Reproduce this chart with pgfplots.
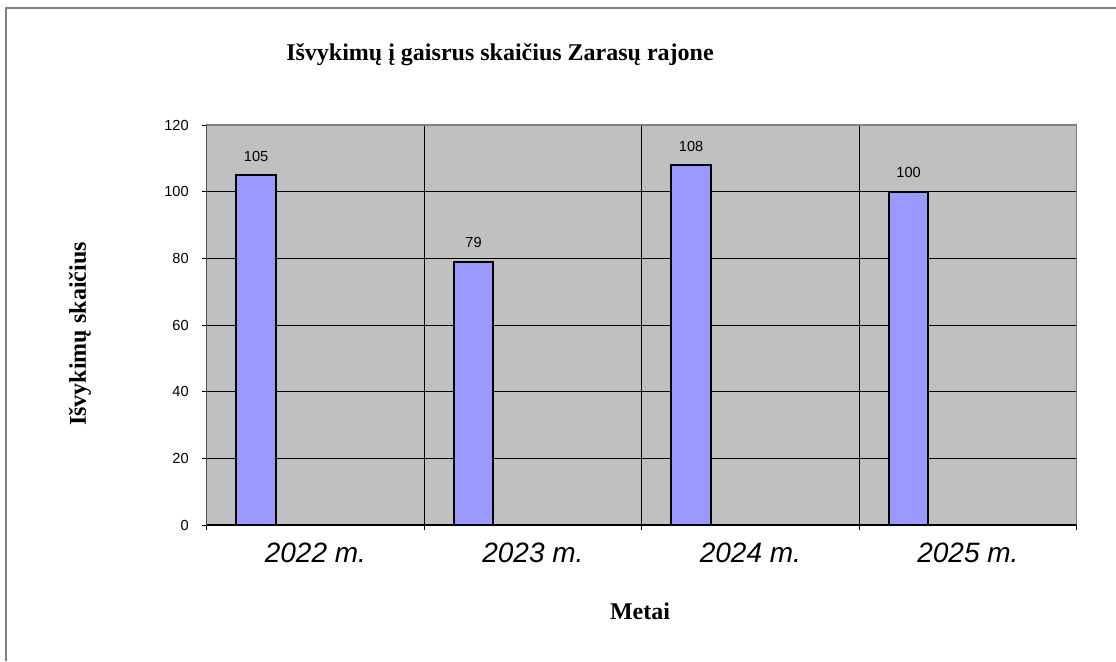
\documentclass[border=0pt]{standalone}
\usepackage{pgfplots}
\pgfplotsset{compat=1.18}
\usepackage{fontspec}
\setmainfont{Liberation Serif}
\newfontfamily\arial{Liberation Sans}
\definecolor{plotgray}{HTML}{C0C0C0}
\definecolor{barblue}{HTML}{9999FF}
\definecolor{framegray}{HTML}{808080}

\begin{document}
\begin{tikzpicture}
  \useasboundingbox (0,0) rectangle (558pt,330.5pt);
  % outer chart frame (only top and left edge show)
  \draw[framegray, line width=0.8pt] (3pt,0pt) -- (3pt,326.5pt) -- (558pt,326.5pt);

  \begin{axis}[
      at={(103.35pt,68pt)}, anchor=south west,
      scale only axis, width=435pt, height=200pt,
      xmin=0, xmax=4, ymin=0, ymax=120,
      /pgf/number format/assume math mode=true,
      axis background/.style={fill=plotgray},
      axis line style={framegray, line width=0.8pt},
      tick pos=left, tick align=outside,
      ytick={0,20,...,120},
      ymajorgrids,
      xtick={0.5,1.5,2.5,3.5},
      xticklabels={2022 m.,2023 m.,2024 m.,2025 m.},
      minor xtick={0,1,2,3,4},
      xminorgrids,
      major grid style={black, line width=0.5pt},
      minor grid style={black, line width=0.5pt},
      x tick style={draw=none},
      minor x tick style={draw=black, line width=0.5pt},
      minor tick length=2.5pt,
      y tick style={black, line width=0.5pt},
      major tick length=2.5pt,
      xticklabel style={font=\arial\fontsize{14}{16}\selectfont\itshape, yshift=-3pt},
      yticklabel style={font=\arial\fontsize{7.3}{8}\selectfont, xshift=-3pt},
      ybar, bar width=0.183, bar shift=0pt,
      nodes near coords,
      every node near coord/.append style={font=\arial\fontsize{7.3}{8}\selectfont, yshift=3pt, black},
    ]
    \addplot[fill=barblue, draw=black, line width=1pt]
      coordinates {(0.227,105) (1.227,79) (2.227,108) (3.227,100)};
    \draw[framegray, line width=0.8pt] (rel axis cs:0,1) -- (rel axis cs:1,1) -- (rel axis cs:1,0);
    \draw[black, line width=0.8pt] (rel axis cs:0,1) -- (rel axis cs:0,0) -- (rel axis cs:1,0);
  \end{axis}

  \node[font=\bfseries\fontsize{12}{14}\selectfont] at (250pt,303pt) {Išvykimų į gaisrus skaičius Zarasų rajone};
  \node[font=\bfseries\fontsize{12}{14}\selectfont, rotate=90] at (40pt,163.5pt) {Išvykimų skaičius};
  \node[font=\bfseries\fontsize{12}{14}\selectfont] at (320pt,25pt) {Metai};
\end{tikzpicture}
\end{document}
